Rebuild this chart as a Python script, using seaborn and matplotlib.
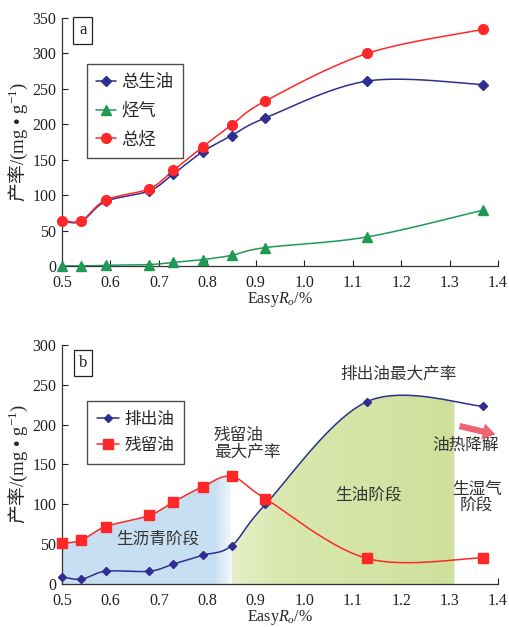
import numpy as np
import pandas as pd
import matplotlib
matplotlib.use("Agg")
import matplotlib.pyplot as plt
from matplotlib.lines import Line2D
from matplotlib.patches import FancyArrowPatch
import seaborn as sns

# ---- data -------------------------------------------------------------
easy_ro = [0.50, 0.54, 0.59, 0.68, 0.73, 0.79, 0.85, 0.92, 1.13, 1.37]

total_oil = [63, 63, 91, 106, 130, 161, 184, 209, 261, 256]
gas = [0, 0, 1, 2, 5, 9, 15, 26, 41, 79]
total_hc = [64, 64, 93, 109, 135, 168, 199, 233, 300, 334]

expelled_oil = [9, 6, 16, 16, 25, 36, 48, 100, 229, 223]
residual_oil = [51, 55, 72, 86, 103, 122, 135, 107, 32, 33]

top_labels = ["总生油", "烃气", "总烃"]
bottom_labels = ["排出油", "残留油"]

# ---- style ------------------------------------------------------------
sns.set_style("ticks")
plt.rcParams["font.family"] = ["Liberation Serif", "Noto Sans CJK SC"]
plt.rcParams["mathtext.fontset"] = "custom"
plt.rcParams["mathtext.rm"] = "Liberation Serif"
plt.rcParams["mathtext.it"] = "Liberation Serif:italic"

CJK = ["Noto Sans CJK SC", "DejaVu Sans"]
BLUE = "#2e2f8f"
RED = "#ff2727"
GREEN = "#1f9a55"

XLIM = (0.5, 1.4)


def smooth(xs, ys, ylim, w, h, n=40):
    """Bezier smoothing of a polyline in screen-like units (Excel style)."""
    xs = np.asarray(xs, float)
    ys = np.asarray(ys, float)
    px = (xs - XLIM[0]) / (XLIM[1] - XLIM[0]) * w
    py = (ys - ylim[0]) / (ylim[1] - ylim[0]) * h
    P = np.column_stack([px, py])
    E = np.vstack([P[0], P, P[-1]])
    out = []
    t = np.linspace(0, 1, n)[:, None]
    for i in range(len(P) - 1):
        p0, p1, p2, p3 = E[i], E[i + 1], E[i + 2], E[i + 3]
        c1 = p1 + (p2 - p0) / 6.0
        c2 = p2 - (p3 - p1) / 6.0
        seg = ((1 - t) ** 3) * p1 + 3 * ((1 - t) ** 2) * t * c1 + 3 * (1 - t) * t ** 2 * c2 + t ** 3 * p2
        out.append(seg if i == 0 else seg[1:])
    S = np.vstack(out)
    sx = S[:, 0] / w * (XLIM[1] - XLIM[0]) + XLIM[0]
    sy = S[:, 1] / h * (ylim[1] - ylim[0]) + ylim[0]
    return sx, sy


def style_axes(ax, ylim, yticks):
    ax.set_xlim(*XLIM)
    ax.set_ylim(*ylim)
    ax.set_xticks(np.round(np.arange(0.5, 1.41, 0.1), 1))
    ax.set_xticklabels([f"{v:.1f}" for v in np.arange(0.5, 1.41, 0.1)])
    ax.set_yticks(yticks)
    ax.tick_params(direction="in", length=4, width=0.8, labelsize=11.5, colors="#222222")
    ax.tick_params(axis="x", pad=6.5)
    ax.tick_params(axis="y", pad=4)
    for s in ["top", "right"]:
        ax.spines[s].set_visible(False)
    for s in ["left", "bottom"]:
        ax.spines[s].set_linewidth(0.9)
        ax.spines[s].set_color("#333333")
    ax.set_xlabel(r"Easy$R_o$/%", fontsize=11.5, family="Liberation Serif", labelpad=-1)
    ax.set_ylabel(r"产率$\mathrm{/(mg\ •\ g^{-1})}$", fontsize=13.5,
                  family="Noto Sans CJK SC", labelpad=2)
    ax.set_facecolor("white")


def line_with_markers(ax, xs, ys, ylim, w, h, color, marker, ms, label):
    sx, sy = smooth(xs, ys, ylim, w, h)
    sns.lineplot(x=sx, y=sy, ax=ax, color=color, lw=1.1, sort=False, estimator=None, zorder=3)
    ax.plot(xs, ys, linestyle="none", marker=marker, ms=ms, color=color, mec=color,
            clip_on=False, zorder=4)
    return Line2D([], [], color=color, lw=1.1, marker=marker, ms=ms, mec=color, label=label)


fig = plt.figure(figsize=(5.10, 6.27), dpi=100)
fig.patch.set_facecolor("white")
ax1 = fig.add_axes([0.1216, 0.5758, 0.8549, 0.3955])
ax2 = fig.add_axes([0.1216, 0.0686, 0.8549, 0.3812])

W = 436

# ---- panel a ----------------------------------------------------------
ylim1 = (0, 350)
style_axes(ax1, ylim1, np.arange(0, 351, 50))
h1 = line_with_markers(ax1, easy_ro, total_oil, ylim1, W, 248, BLUE, "D", 5, top_labels[0])
h2 = line_with_markers(ax1, easy_ro, gas, ylim1, W, 248, GREEN, "^", 7, top_labels[1])
h3 = line_with_markers(ax1, easy_ro, total_hc, ylim1, W, 248, RED, "o", 7, top_labels[2])
ax1.set_xlim(*XLIM)
ax1.set_ylim(*ylim1)
leg1 = ax1.legend(handles=[h1, h2, h3], loc="upper left", bbox_to_anchor=(0.057, 0.815),
                  prop={"family": CJK, "size": 12.5}, frameon=True, fancybox=False,
                  edgecolor="#222222", handlelength=1.15, handletextpad=0.3,
                  labelspacing=0.6, borderpad=0.55, borderaxespad=0)
leg1.get_frame().set_linewidth(1.0)
ax1.text(0.048, 0.95, "a", transform=ax1.transAxes, fontsize=12, va="center", ha="center",
         bbox=dict(boxstyle="square,pad=0.35", fc="white", ec="#222222", lw=0.9))

# ---- panel b ----------------------------------------------------------
ylim2 = (0, 300)
style_axes(ax2, ylim2, np.arange(0, 301, 50))

rx, ry = smooth(easy_ro, residual_oil, ylim2, W, 239)
bx, by = smooth(easy_ro, expelled_oil, ylim2, W, 239)

# stage shading: bitumen stage under residual oil, oil stage under expelled oil
mask_b = rx <= 0.85
poly_b = ax2.fill_between(rx[mask_b], 0, ry[mask_b], color="none", lw=0)
mask_g = (bx >= 0.85) & (bx <= 1.31)
gx = np.concatenate([[0.85], bx[mask_g], [1.31]])
gy = np.concatenate([[np.interp(0.85, bx, by)], by[mask_g], [np.interp(1.31, bx, by)]])
poly_g = ax2.fill_between(gx, 0, gy, color="none", lw=0)

xg = np.linspace(0.5, 1.4, 900)
blue_c = np.array([199, 223, 242]) / 255
white = np.ones(3)
g0 = np.array([230, 238, 200]) / 255
g1 = np.array([216, 231, 172]) / 255
g2 = np.array([206, 224, 155]) / 255
img = np.ones((1, len(xg), 4))
for j, x in enumerate(xg):
    if x <= 0.85:
        f = np.clip((x - 0.815) / 0.035, 0, 1)
        c = blue_c * (1 - 0.8 * f) + white * 0.8 * f
    else:
        f = np.clip((x - 0.85) / 0.12, 0, 1)
        c = g0 * (1 - f) + g1 * f
        if x > 1.0:
            f2 = np.clip((x - 1.0) / 0.31, 0, 1)
            c = g1 * (1 - f2) + g2 * f2
    img[0, j, :3] = c

for poly in (poly_b, poly_g):
    im = ax2.imshow(img, extent=[0.5, 1.4, 0, 300], aspect="auto", zorder=1,
                    interpolation="bilinear")
    im.set_clip_path(poly.get_paths()[0], transform=ax2.transData)

k1 = line_with_markers(ax2, easy_ro, expelled_oil, ylim2, W, 239, BLUE, "D", 4.5, bottom_labels[0])
k2 = line_with_markers(ax2, easy_ro, residual_oil, ylim2, W, 239, RED, "s", 6.5, bottom_labels[1])
ax2.set_xlim(*XLIM)
ax2.set_ylim(*ylim2)
leg2 = ax2.legend(handles=[k1, k2], loc="upper left", bbox_to_anchor=(0.057, 0.765),
                  prop={"family": CJK, "size": 12}, frameon=True, fancybox=False,
                  edgecolor="#222222", handlelength=1.35, handletextpad=0.3,
                  labelspacing=0.55, borderpad=0.6, borderaxespad=0)
leg2.get_frame().set_linewidth(1.0)
ax2.text(0.048, 0.925, "b", transform=ax2.transAxes, fontsize=12, va="center", ha="center",
         bbox=dict(boxstyle="square,pad=0.3", fc="white", ec="#222222", lw=0.9))

txt = dict(family=CJK, fontsize=12, color="#333333", ha="center", va="center", zorder=5)
ax2.text(1.194, 263, "排出油最大产率", **txt)
ax2.text(0.882, 176, "残留油\n最大产率", linespacing=1.0, multialignment="left", **txt)
ax2.text(1.334, 174, "油热降解", **txt)
ax2.text(1.356, 108, "生湿气\n阶段", linespacing=1.0, **txt)
ax2.text(1.132, 112, "生油阶段", **txt)
ax2.text(0.698, 56, "生沥青阶段", **txt)

arrow = FancyArrowPatch((1.315, 199), (1.40, 187), transform=ax2.transData,
                        arrowstyle="simple,head_length=1.0,head_width=1.3,tail_width=0.5",
                        mutation_scale=9, color="#ee6470", lw=0, clip_on=False, zorder=5)
ax2.add_patch(arrow)

fig.savefig("out.png", dpi=100, facecolor="white")
